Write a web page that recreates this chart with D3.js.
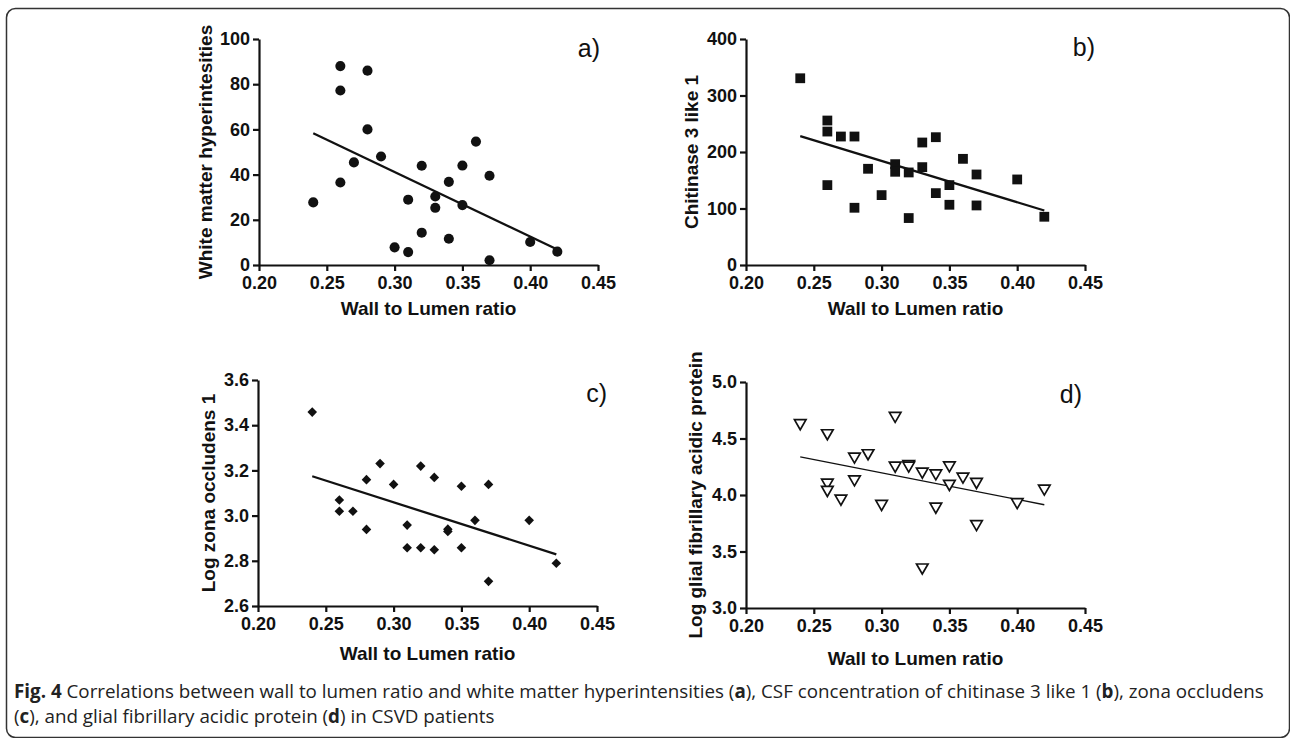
<!DOCTYPE html>
<html>
<head>
<meta charset="utf-8">
<script src="https://cdn.jsdelivr.net/npm/d3@7"></script>
<style>
  body { margin: 0; background: #fff; }
  svg { display: block; }
  .tick text { font-family: "Liberation Sans", Arial, sans-serif; font-weight: bold; font-size: 18px; fill: #111; }
  .title { font-family: "Liberation Sans", Arial, sans-serif; font-weight: bold; font-size: 19px; fill: #111; }
  .tag { font-family: "Liberation Sans", Arial, sans-serif; font-size: 25px; fill: #111; }
  .caption { font-family: "Open Sans", sans-serif; font-size: 18.8px; fill: #222; }
</style>
</head>
<body>
<div id="container"></div>
<script>
// x ticks shared by all four panels
var xTicks = [0.20, 0.25, 0.30, 0.35, 0.40, 0.45];

// a) white matter hyperintensities
var wlrA = [0.24, 0.26, 0.26, 0.26, 0.27, 0.28, 0.28, 0.29, 0.30, 0.31, 0.31, 0.32, 0.32, 0.33, 0.33, 0.34, 0.34, 0.35, 0.35, 0.36, 0.37, 0.37, 0.40, 0.42];
var wmh = [27.7, 88, 77.2, 36.5, 45.4, 86, 60, 48, 7.8, 28.9, 5.7, 43.9, 14.3, 30.3, 25.3, 36.8, 11.6, 44, 26.5, 54.6, 39.5, 2.1, 10.2, 5.9];
var ticksA = [0, 20, 40, 60, 80, 100];

// b) chitinase 3 like 1
var wlrB = [0.24, 0.26, 0.26, 0.26, 0.27, 0.28, 0.28, 0.29, 0.30, 0.31, 0.31, 0.32, 0.32, 0.33, 0.33, 0.34, 0.34, 0.35, 0.35, 0.36, 0.37, 0.37, 0.40, 0.42];
var chi3l1 = [330.5, 255.7, 236.2, 141.4, 227.4, 227.4, 101.3, 170.3, 123.7, 178.5, 165, 163.8, 83.1, 216.8, 173.2, 226.2, 127.2, 141.4, 106.6, 187.9, 160.2, 105.4, 151.4, 85.4];
var ticksB = [0, 100, 200, 300, 400];

// c) log zona occludens 1
var wlrC = [0.24, 0.26, 0.26, 0.27, 0.28, 0.28, 0.29, 0.30, 0.31, 0.31, 0.32, 0.32, 0.33, 0.33, 0.34, 0.34, 0.35, 0.35, 0.36, 0.37, 0.37, 0.40, 0.42];
var logZO1 = [3.458, 3.069, 3.019, 3.019, 3.159, 2.939, 3.230, 3.138, 2.958, 2.858, 3.219, 2.858, 3.169, 2.849, 2.94, 2.93, 3.130, 2.858, 2.979, 3.138, 2.709, 2.979, 2.789];
var ticksC = [2.6, 2.8, 3.0, 3.2, 3.4, 3.6];

// d) log glial fibrillary acidic protein
var wlrD = [0.24, 0.26, 0.26, 0.26, 0.27, 0.28, 0.28, 0.29, 0.30, 0.31, 0.31, 0.32, 0.32, 0.33, 0.33, 0.34, 0.34, 0.35, 0.35, 0.36, 0.37, 0.37, 0.40, 0.42];
var logGFAP = [4.637, 4.548, 4.111, 4.046, 3.969, 4.341, 4.140, 4.371, 3.922, 4.702, 4.261, 4.275, 4.262, 4.208, 3.360, 4.193, 3.898, 4.264, 4.099, 4.164, 4.117, 3.744, 3.939, 4.058];
var ticksD = [3.0, 3.5, 4.0, 4.5, 5.0];

var W = 1290, H = 738;
var svg = d3.select("#container").append("svg")
  .attr("width", W).attr("height", H)
  .attr("viewBox", "0 0 " + W + " " + H);

// figure frame
svg.append("rect")
  .attr("x", 6.5).attr("y", 8.5)
  .attr("width", 1283).attr("height", 729)
  .attr("rx", 9)
  .attr("fill", "none").attr("stroke", "#333").attr("stroke-width", 1.5);

var panels = [
  { xs: wlrA, ys: wmh, yTicks: ticksA, fmt: d3.format("d"), left: 259, right: 598, top: 39, bottom: 265,
    yTitle: "White matter hyperintesities", yTitleX: 212, xTitleY: 315, tag: "a)", tagX: 600, tagY: 57,
    symbol: d3.symbolCircle, size: 80, filled: true, rotate: 0, lineW: 2.3 },
  { xs: wlrB, ys: chi3l1, yTicks: ticksB, fmt: d3.format("d"), left: 746, right: 1085, top: 39, bottom: 265,
    yTitle: "Chitinase 3 like 1", yTitleX: 698, xTitleY: 315, tag: "b)", tagX: 1095, tagY: 56,
    symbol: d3.symbolSquare, size: 96, filled: true, rotate: 0, lineW: 2.3 },
  { xs: wlrC, ys: logZO1, yTicks: ticksC, fmt: d3.format(".1f"), left: 258, right: 597, top: 380, bottom: 606,
    yTitle: "Log zona occludens 1", yTitleX: 215, xTitleY: 660, tag: "c)", tagX: 607, tagY: 402,
    symbol: d3.symbolSquare, size: 46, filled: true, rotate: 45, lineW: 2.3 },
  { xs: wlrD, ys: logGFAP, yTicks: ticksD, fmt: d3.format(".1f"), left: 746, right: 1085, top: 382, bottom: 608,
    yTitle: "Log glial fibrillary acidic protein", yTitleX: 702, xTitleY: 665, tag: "d)", tagX: 1082, tagY: 403,
    symbol: d3.symbolTriangle, size: 58, filled: false, rotate: 180, lineW: 1.3 }
];

function fit(xs, ys) {
  var mx = d3.mean(xs), my = d3.mean(ys);
  var sxy = d3.sum(xs, function(x, i) { return (x - mx) * (ys[i] - my); });
  var sxx = d3.sum(xs, function(x) { return (x - mx) * (x - mx); });
  var b = sxy / sxx;
  return function(x) { return my + b * (x - mx); };
}

panels.forEach(function(p) {
  var x = d3.scaleLinear().domain([xTicks[0], xTicks[xTicks.length - 1]]).range([p.left, p.right]);
  var y = d3.scaleLinear().domain([p.yTicks[0], p.yTicks[p.yTicks.length - 1]]).range([p.bottom, p.top]);
  var g = svg.append("g");

  var xAxis = g.append("g")
    .attr("transform", "translate(0," + p.bottom + ")")
    .call(d3.axisBottom(x).tickValues(xTicks).tickFormat(d3.format(".2f")).tickSize(6).tickSizeOuter(0).tickPadding(5));
  var yAxis = g.append("g")
    .attr("transform", "translate(" + p.left + ",0)")
    .call(d3.axisLeft(y).tickValues(p.yTicks).tickFormat(p.fmt).tickSize(6).tickSizeOuter(0).tickPadding(3));
  [xAxis, yAxis].forEach(function(a) {
    a.select(".domain").attr("stroke", "#111").attr("stroke-width", 2.2);
    a.selectAll(".tick line").attr("stroke", "#111").attr("stroke-width", 2.2);
  });

  // regression line over the observed range
  var f = fit(p.xs, p.ys);
  var ext = d3.extent(p.xs);
  g.append("line")
    .attr("x1", x(ext[0])).attr("y1", y(f(ext[0])))
    .attr("x2", x(ext[1])).attr("y2", y(f(ext[1])))
    .attr("stroke", "#111").attr("stroke-width", p.lineW);

  var sym = d3.symbol().type(p.symbol).size(p.size);
  g.selectAll("path.pt")
    .data(p.xs)
    .enter()
    .append("path")
    .attr("class", "pt")
    .attr("d", sym)
    .attr("transform", function(d, i) { return "translate(" + x(d) + "," + y(p.ys[i]) + ") rotate(" + p.rotate + ")"; })
    .attr("fill", p.filled ? "#111" : "#fff")
    .attr("stroke", "#111")
    .attr("stroke-width", p.filled ? 0 : 1.7);

  g.append("text").attr("class", "title")
    .attr("x", (p.left + p.right) / 2).attr("y", p.xTitleY)
    .attr("text-anchor", "middle")
    .text("Wall to Lumen ratio");

  g.append("text").attr("class", "title")
    .attr("transform", "translate(" + p.yTitleX + "," + (p.top + p.bottom) / 2 + ") rotate(-90)")
    .attr("text-anchor", "middle")
    .text(p.yTitle);

  g.append("text").attr("class", "tag")
    .attr("x", p.tagX).attr("y", p.tagY)
    .attr("text-anchor", "end")
    .text(p.tag);
});

// caption
var capLines = [
  [["Fig. 4", true], [" Correlations between wall to lumen ratio and white matter hyperintensities (", false], ["a", true],
   ["), CSF concentration of chitinase 3 like 1 (", false], ["b", true], ["), zona occludens", false]],
  [["(", false], ["c", true], ["), and glial fibrillary acidic protein (", false], ["d", true], [") in CSVD patients", false]]
];
capLines.forEach(function(line, li) {
  var t = svg.append("text").attr("class", "caption")
    .attr("x", 14).attr("y", 698 + li * 25);
  line.forEach(function(s) {
    t.append("tspan").attr("font-weight", s[1] ? "bold" : null).text(s[0]);
  });
});
</script>
</body>
</html>
